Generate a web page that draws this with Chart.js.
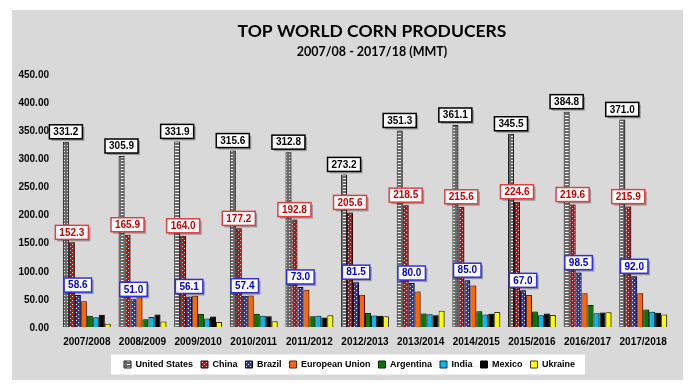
<!DOCTYPE html>
<html>
<head>
<meta charset="utf-8">
<script src="https://cdn.jsdelivr.net/npm/chart.js@4.4.1/dist/chart.umd.min.js"></script>
<style>
  html, body { margin: 0; padding: 0; background: #ffffff; }
  #chart { display: block; }
</style>
</head>
<body>
<canvas id="chart" width="693" height="391"></canvas>
<script>
// Chart data (MMT)
const years = ["2007/2008", "2008/2009", "2009/2010", "2010/2011", "2011/2012", "2012/2013",
  "2013/2014", "2014/2015", "2015/2016", "2016/2017", "2017/2018"];
const unitedStates = [331.2, 305.9, 331.9, 315.6, 312.8, 273.2, 351.3, 361.1, 345.5, 384.8, 371.0];
const china = [152.3, 165.9, 164.0, 177.2, 192.8, 205.6, 218.5, 215.6, 224.6, 219.6, 215.9];
const brazil = [58.6, 51.0, 56.1, 57.4, 73.0, 81.5, 80.0, 85.0, 67.0, 98.5, 92.0];
const europeanUnion = [47.6, 62.3, 57.3, 58.0, 68.1, 59.0, 64.9, 75.7, 58.7, 61.9, 62.0];
const argentina = [22.0, 15.5, 25.0, 25.2, 21.0, 26.5, 26.0, 29.8, 29.5, 41.0, 33.0];
const india = [19.0, 19.7, 16.7, 21.7, 21.8, 22.3, 24.3, 24.2, 22.6, 26.3, 28.7];
const mexico = [23.6, 24.2, 20.4, 21.1, 18.7, 21.6, 22.9, 25.5, 26.0, 27.6, 27.0];
const ukraine = [7.4, 11.4, 10.5, 11.9, 22.8, 20.9, 30.9, 28.5, 23.3, 28.0, 24.1];
const yTicks = [0, 50, 100, 150, 200, 250, 300, 350, 400, 450];

const FONT = "'Liberation Sans', Arial, sans-serif";

// Fill patterns
function makePattern(w, h, bg, fg, dots) {
  const c = document.createElement("canvas");
  c.width = w;
  c.height = h;
  const g = c.getContext("2d");
  g.fillStyle = bg;
  g.fillRect(0, 0, w, h);
  g.fillStyle = fg;
  dots.forEach(([x, y, dw, dh]) => g.fillRect(x, y, dw, dh));
  return g.createPattern(c, "repeat");
}

const usFill = makePattern(6, 3, "#6a6a6a", "#f4f4f4", [[1, 1, 4, 1]]);
const chinaFill = makePattern(4, 4, "#e00000", "#ffffff", [[0, 0, 1, 1], [2, 2, 1, 1]]);
const brazilFill = makePattern(4, 4, "#2b2bd0", "#ffffff", [[0, 0, 1, 1], [2, 2, 1, 1]]);

// Gray panel, white legend box, title text
const backdrop = {
  id: "backdrop",
  afterLayout(chart) {
    // legend sits a bit right of the canvas centre in the original
    if (chart.legend) {
      chart.legend.left += 14;
      chart.legend.right += 14;
    }
  },
  beforeDraw(chart) {
    const ctx = chart.ctx;
    ctx.save();
    ctx.fillStyle = "#d9d9d9";
    ctx.fillRect(12, 10, 671, 370);
    const lg = chart.legend;
    if (lg && lg.legendHitBoxes && lg.legendHitBoxes.length) {
      const boxes = lg.legendHitBoxes;
      const left = Math.min(...boxes.map((b) => b.left)) - 13;
      const right = Math.max(...boxes.map((b) => b.left + b.width)) + 10;
      const cy = boxes[0].top + boxes[0].height / 2;
      ctx.fillStyle = "#ffffff";
      ctx.fillRect(left, cy - 10, right - left, 20);
    }
    ctx.fillStyle = "#000000";
    ctx.textAlign = "center";
    ctx.textBaseline = "middle";
    ctx.font = "bold 17.5px Lato, sans-serif";
    ctx.fillText("TOP WORLD CORN PRODUCERS", 372, 31);
    ctx.font = "bold 12.5px Lato, sans-serif";
    ctx.fillText("2007/08 - 2017/18 (MMT)", 372, 52);
    ctx.restore();
  }
};

// Bar shadows and boxed value labels
const labelSets = [
  { index: 0, text: "#000000", border: "#000000" },
  { index: 1, text: "#d00000", border: "#e04040" },
  { index: 2, text: "#0000cc", border: "#3030e0" }
];

const barLabels = {
  id: "barLabels",
  beforeDatasetsDraw(chart) {
    const ctx = chart.ctx;
    ctx.save();
    ctx.shadowColor = "rgba(0, 0, 0, 0.35)";
    ctx.shadowOffsetX = 2;
    ctx.shadowOffsetY = 0;
    ctx.shadowBlur = 0;
  },
  afterDatasetsDraw(chart) {
    const ctx = chart.ctx;
    ctx.restore();
    ctx.save();
    ctx.font = "bold 10px " + FONT;
    ctx.textAlign = "center";
    ctx.textBaseline = "middle";
    labelSets.forEach((set) => {
      const meta = chart.getDatasetMeta(set.index);
      const values = chart.data.datasets[set.index].data;
      meta.data.forEach((bar, i) => {
        const txt = values[i].toFixed(1);
        const w = ctx.measureText(txt).width + 8;
        const h = 14;
        const cx = bar.x;
        const cy = bar.y - 10;
        ctx.shadowColor = "rgba(0, 0, 0, 0.3)";
        ctx.shadowOffsetX = 2;
        ctx.shadowOffsetY = 2;
        ctx.fillStyle = "#ffffff";
        ctx.fillRect(cx - w / 2, cy - h / 2, w, h);
        ctx.shadowColor = "transparent";
        ctx.lineWidth = 1.5;
        ctx.strokeStyle = set.border;
        ctx.strokeRect(cx - w / 2, cy - h / 2, w, h);
        ctx.fillStyle = set.text;
        ctx.fillText(txt, cx, cy + 0.5);
      });
    });
    ctx.restore();
  }
};

function series(label, data, fill, border) {
  return {
    label: label,
    data: data,
    backgroundColor: fill,
    borderColor: border,
    borderWidth: 1,
    categoryPercentage: 0.86,
    barPercentage: 1.0
  };
}

const ctx = document.getElementById("chart").getContext("2d");
const chart = new Chart(ctx, {
  type: "bar",
  data: {
    labels: years,
    datasets: [
      series("United States", unitedStates, usFill, "#222222"),
      series("China", china, chinaFill, "#400000"),
      series("Brazil", brazil, brazilFill, "#000040"),
      series("European Union", europeanUnion, "#ff6600", "#5a2000"),
      series("Argentina", argentina, "#007a00", "#002000"),
      series("India", india, "#00b8f0", "#003040"),
      series("Mexico", mexico, "#000000", "#000000"),
      series("Ukraine", ukraine, "#ffff00", "#404000")
    ]
  },
  options: {
    responsive: false,
    animation: false,
    devicePixelRatio: 1,
    layout: {
      padding: { left: 0, right: 22, top: 75, bottom: 12 }
    },
    plugins: {
      title: { display: false },
      tooltip: { enabled: false },
      legend: {
        position: "bottom",
        labels: {
          color: "#000000",
          font: { family: FONT, size: 9, weight: "bold" },
          boxWidth: 7,
          boxHeight: 7,
          padding: 8
        }
      }
    },
    scales: {
      x: {
        offset: true,
        grid: { color: "#d9d9d9", lineWidth: 2, drawTicks: false, offset: true },
        border: { display: false },
        afterFit(scale) {
          scale.height = scale.height - 4;
        },
        ticks: {
          color: "#000000",
          font: { family: FONT, size: 10, weight: "bold" },
          padding: 8,
          maxRotation: 0
        }
      },
      y: {
        min: 0,
        max: 450,
        afterBuildTicks(scale) {
          scale.ticks = yTicks.map((v) => ({ value: v }));
        },
        afterFit(scale) {
          scale.width = 59;
        },
        grid: { color: "#d9d9d9", lineWidth: 2, drawTicks: false },
        border: { display: false },
        ticks: {
          color: "#000000",
          font: { family: FONT, size: 10, weight: "bold" },
          padding: 10,
          callback: (v) => Number(v).toFixed(2)
        }
      }
    }
  },
  plugins: [backdrop, barLabels]
});
</script>
</body>
</html>
